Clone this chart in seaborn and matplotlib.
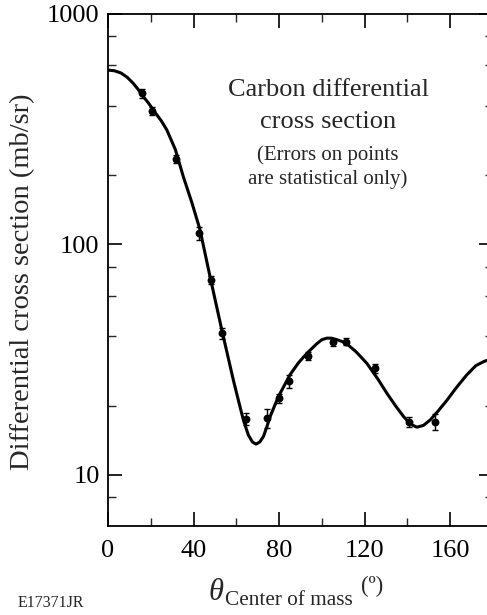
import matplotlib
matplotlib.use("Agg")
import matplotlib.pyplot as plt
import seaborn as sns
import pandas as pd
from matplotlib.ticker import FixedLocator, NullFormatter

# Measured data points
angle = [15.8, 20.6, 31.7, 42.6, 48.0, 53.5, 64.4, 74.2, 80.1, 84.8, 93.7, 105.4, 111.2, 124.8, 140.7, 153.1]
xsec = [453, 380, 235, 112, 70.2, 41.2, 17.5, 17.6, 21.5, 25.5, 32.9, 37.6, 37.9, 29.0, 17.0, 17.0]
xsec_err = [20, 14, 10, 7, 3, 2.2, 1.0, 1.7, 1.0, 1.6, 1.3, 1.2, 1.2, 1.2, 0.9, 1.4]

# Fit curve
curve_angle = [0, 3, 6, 9, 11.8, 14, 16.5, 19, 22, 25, 27.5, 31.5, 35.2, 39.2, 43.0, 47.7,
               53.2, 58.6, 61.0, 63.3, 65.6, 67.5, 69.2, 71.0, 72.7, 74.2, 75.8, 79.7, 85.1,
               89, 93.0, 97.5, 100, 102.3, 104.5, 107, 109.5, 111.7, 116, 121.0, 126, 130.4,
               134.5, 138.2, 141.5, 144.4, 147.5, 150.6, 154.5, 158.5, 163, 167.8, 172,
               175.6, 178, 180]
curve_xsec = [571, 567, 555, 531, 500, 472, 438, 410, 374, 343, 314, 258, 197, 152, 116, 72.5,
              42.6, 25.8, 21.0, 17.3, 14.9, 13.9, 13.6, 13.9, 14.7, 16.1, 17.9, 21.9, 27.2,
              30.6, 33.7, 37.0, 38.6, 39.2, 39.2, 38.6, 37.9, 37.0, 34.2, 30.5, 26.2, 22.6,
              19.9, 17.9, 16.6, 16.1, 16.4, 17.3, 19.0, 21.1, 24.0, 27.2, 29.8,
              31.0, 31.6, 32.0]

xticks = [0, 40, 80, 120, 160]
yticks = [10, 100, 1000]

sns.set_theme(style="ticks")
plt.rcParams["font.family"] = ["Liberation Serif", "DejaVu Serif"]

fig = plt.figure(figsize=(4.87, 6.15), dpi=100)
ax = fig.add_axes([108/487, 1-526/615, (493-108)/487, (526-14)/615])

df_pts = pd.DataFrame({"angle": angle, "xsec": xsec})
df_curve = pd.DataFrame({"angle": curve_angle, "xsec": curve_xsec})

sns.lineplot(data=df_curve, x="angle", y="xsec", ax=ax, color="black", linewidth=2.2, sort=True)
ax.errorbar(angle, xsec, yerr=xsec_err, fmt="none", ecolor="black", elinewidth=1.0, capsize=2.5, capthick=1.0)
sns.scatterplot(data=df_pts, x="angle", y="xsec", ax=ax, color="black", s=32, edgecolor="black", linewidth=0, zorder=5)

ax.set_yscale("log")
ax.set_xlim(0, 180)
ax.set_ylim(6, 1000)
ax.set_xticks(xticks)
ax.set_xticks(list(range(20, 180, 40)), minor=True)
ax.set_yticks(yticks)
ax.set_yticklabels([str(v) for v in yticks])
ax.set_xticklabels([str(v) for v in xticks])
ax.yaxis.set_minor_locator(FixedLocator([8, 20, 40, 60, 80, 200, 400, 600, 800]))
ax.yaxis.set_minor_formatter(NullFormatter())

ax.tick_params(which="major", direction="in", length=10, width=1.2, top=True, right=True,
               labelsize=19, colors="black")
ax.tick_params(axis="y", which="major", pad=6)
ax.tick_params(axis="x", which="major", pad=10)
ax.tick_params(which="minor", direction="in", length=6, width=1.0, top=True, right=True)
for s in ax.spines.values():
    s.set_linewidth(1.3)
    s.set_color("black")
    s.set_visible(True)

ax.set_xlabel("")
ax.set_ylabel("Differential cross section (mb/sr)", fontsize=20.5)
ax.yaxis.set_label_coords(-0.19, 0.478)

# x-axis label built from pieces: theta, subscript, unit
fig.text(209/487, 1-600/615, "\u03b8", ha="left", va="baseline", fontsize=22, style="italic")
fig.text(225/487, 1-605/615, "Center of mass", ha="left", va="baseline", fontsize=15.3)
fig.text(361/487, 1-592/615, "(\u00ba)", ha="left", va="baseline", fontsize=16.5)

fig.text(328/487, 1-90/615, "Carbon differential", ha="center", va="center", fontsize=19)
fig.text(328/487, 1-122/615, "cross section", ha="center", va="center", fontsize=19)
fig.text(328/487, 1-155/615, "(Errors on points", ha="center", va="center", fontsize=15)
fig.text(328/487, 1-179/615, "are statistical only)", ha="center", va="center", fontsize=15)
fig.text(18/487, 1-603/615, "E17371JR", ha="left", va="center", fontsize=11.5)

fig.savefig("out.png", dpi=100)
